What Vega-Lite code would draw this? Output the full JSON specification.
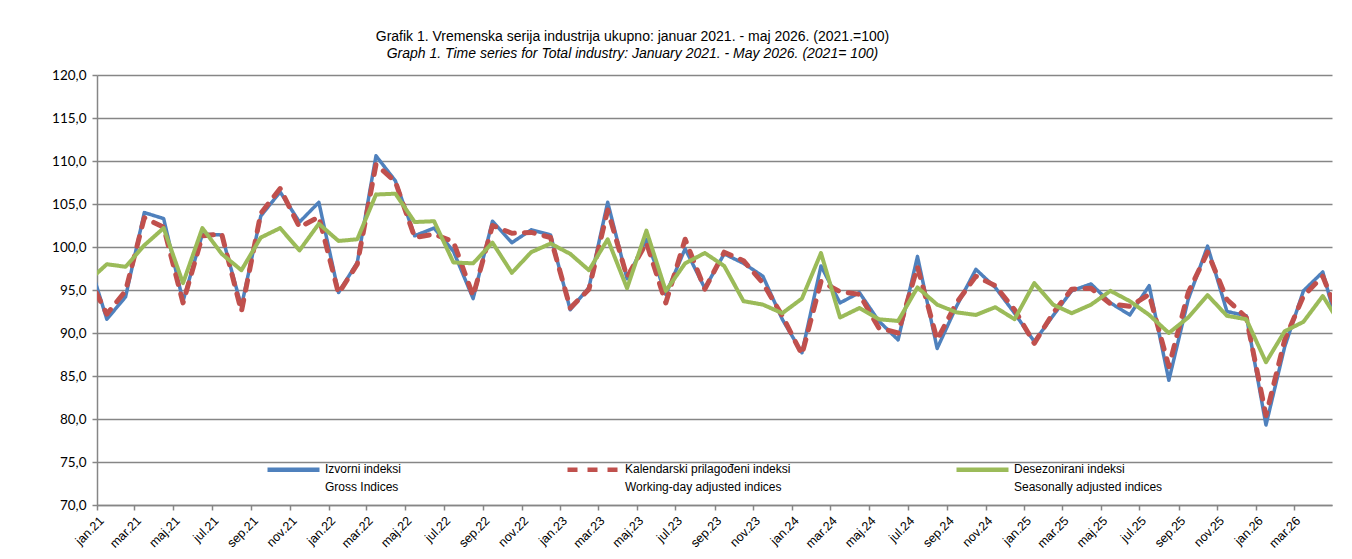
{
  "$schema": "https://vega.github.io/schema/vega-lite/v6.json",
  "width": 1235,
  "height": 430,
  "autosize": {"type": "none"},
  "padding": {"left": 97, "top": 75, "right": 20, "bottom": 54},
  "background": "white",
  "title": {
    "text": "Grafik 1. Vremenska serija industrija ukupno: januar 2021. - maj 2026. (2021.=100)",
    "subtitle": "Graph 1. Time series for Total industry:  January 2021. -  May 2026. (2021= 100)",
    "anchor": "middle",
    "frame": "group",
    "dx": -82,
    "offset": 7,
    "font": "Liberation Sans",
    "fontSize": 14,
    "fontWeight": "normal",
    "color": "#000000",
    "subtitleFont": "Liberation Sans",
    "subtitleFontSize": 14,
    "subtitleFontStyle": "italic",
    "subtitleColor": "#000000",
    "subtitlePadding": 3
  },
  "data": {
    "values": [
      {"month": "2020-12", "gross": 99.0, "wda": 96.8, "sa": 95.9},
      {"month": "2021-01", "gross": 91.6, "wda": 92.2, "sa": 98.0},
      {"month": "2021-02", "gross": 94.2, "wda": 94.9, "sa": 97.7},
      {"month": "2021-03", "gross": 104.0, "wda": 103.4, "sa": 100.2},
      {"month": "2021-04", "gross": 103.3, "wda": 102.3, "sa": 102.2},
      {"month": "2021-05", "gross": 93.7, "wda": 93.5, "sa": 95.8},
      {"month": "2021-06", "gross": 101.5, "wda": 101.3, "sa": 102.2},
      {"month": "2021-07", "gross": 101.4, "wda": 101.5, "sa": 99.2},
      {"month": "2021-08", "gross": 93.1, "wda": 92.5, "sa": 97.3},
      {"month": "2021-09", "gross": 103.6, "wda": 103.9, "sa": 101.1},
      {"month": "2021-10", "gross": 106.4, "wda": 106.8, "sa": 102.2},
      {"month": "2021-11", "gross": 102.9, "wda": 102.3, "sa": 99.6},
      {"month": "2021-12", "gross": 105.2, "wda": 103.5, "sa": 102.7},
      {"month": "2022-01", "gross": 94.7, "wda": 94.6, "sa": 100.7},
      {"month": "2022-02", "gross": 98.2, "wda": 98.0, "sa": 100.9},
      {"month": "2022-03", "gross": 110.6, "wda": 109.6, "sa": 106.1},
      {"month": "2022-04", "gross": 107.7, "wda": 107.6, "sa": 106.2},
      {"month": "2022-05", "gross": 101.3, "wda": 101.1, "sa": 102.9},
      {"month": "2022-06", "gross": 102.2, "wda": 101.5, "sa": 103.0},
      {"month": "2022-07", "gross": 99.5, "wda": 100.6, "sa": 98.2},
      {"month": "2022-08", "gross": 94.0, "wda": 94.3, "sa": 98.1},
      {"month": "2022-09", "gross": 103.0, "wda": 102.5, "sa": 100.5},
      {"month": "2022-10", "gross": 100.5, "wda": 101.6, "sa": 97.0},
      {"month": "2022-11", "gross": 102.0, "wda": 101.7, "sa": 99.4},
      {"month": "2022-12", "gross": 101.4, "wda": 101.1, "sa": 100.4},
      {"month": "2023-01", "gross": 92.7, "wda": 92.9, "sa": 99.2},
      {"month": "2023-02", "gross": 95.3, "wda": 95.1, "sa": 97.3},
      {"month": "2023-03", "gross": 105.2, "wda": 104.3, "sa": 100.9},
      {"month": "2023-04", "gross": 96.3, "wda": 96.5, "sa": 95.2},
      {"month": "2023-05", "gross": 100.9, "wda": 100.5, "sa": 101.9},
      {"month": "2023-06", "gross": 94.5, "wda": 93.5, "sa": 94.9},
      {"month": "2023-07", "gross": 99.8, "wda": 100.9, "sa": 98.1},
      {"month": "2023-08", "gross": 95.2, "wda": 95.1, "sa": 99.3},
      {"month": "2023-09", "gross": 99.2, "wda": 99.4, "sa": 97.8},
      {"month": "2023-10", "gross": 98.1, "wda": 98.4, "sa": 93.7},
      {"month": "2023-11", "gross": 96.6, "wda": 95.8, "sa": 93.3},
      {"month": "2023-12", "gross": 91.6, "wda": 92.0, "sa": 92.3},
      {"month": "2024-01", "gross": 87.7, "wda": 87.5, "sa": 94.0},
      {"month": "2024-02", "gross": 97.8, "wda": 96.0, "sa": 99.3},
      {"month": "2024-03", "gross": 93.5, "wda": 94.8, "sa": 91.8},
      {"month": "2024-04", "gross": 94.7, "wda": 94.5, "sa": 92.9},
      {"month": "2024-05", "gross": 91.4, "wda": 90.6, "sa": 91.6},
      {"month": "2024-06", "gross": 89.2, "wda": 90.0, "sa": 91.4},
      {"month": "2024-07", "gross": 98.9, "wda": 97.7, "sa": 95.3},
      {"month": "2024-08", "gross": 88.2, "wda": 89.2, "sa": 93.3},
      {"month": "2024-09", "gross": 93.1, "wda": 93.5, "sa": 92.4},
      {"month": "2024-10", "gross": 97.4, "wda": 96.6, "sa": 92.1},
      {"month": "2024-11", "gross": 95.3, "wda": 95.5, "sa": 93.0},
      {"month": "2024-12", "gross": 92.3, "wda": 92.7, "sa": 91.6},
      {"month": "2025-01", "gross": 89.0, "wda": 88.8, "sa": 95.8},
      {"month": "2025-02", "gross": 92.0, "wda": 92.3, "sa": 93.3},
      {"month": "2025-03", "gross": 94.9, "wda": 95.1, "sa": 92.3},
      {"month": "2025-04", "gross": 95.7, "wda": 95.2, "sa": 93.3},
      {"month": "2025-05", "gross": 93.5, "wda": 93.4, "sa": 94.9},
      {"month": "2025-06", "gross": 92.1, "wda": 93.1, "sa": 93.7},
      {"month": "2025-07", "gross": 95.5, "wda": 94.5, "sa": 92.1},
      {"month": "2025-08", "gross": 84.5, "wda": 86.1, "sa": 90.0},
      {"month": "2025-09", "gross": 93.9, "wda": 94.7, "sa": 91.8},
      {"month": "2025-10", "gross": 100.1, "wda": 99.4, "sa": 94.4},
      {"month": "2025-11", "gross": 92.5, "wda": 93.9, "sa": 92.0},
      {"month": "2025-12", "gross": 92.0, "wda": 91.8, "sa": 91.6},
      {"month": "2026-01", "gross": 79.3, "wda": 80.4, "sa": 86.6},
      {"month": "2026-02", "gross": 88.4, "wda": 89.2, "sa": 90.2},
      {"month": "2026-03", "gross": 94.9, "wda": 94.3, "sa": 91.3},
      {"month": "2026-04", "gross": 97.1, "wda": 96.6, "sa": 94.3},
      {"month": "2026-05", "gross": 88.8, "wda": 91.0, "sa": 90.7}
    ]
  },
  "transform": [{"fold": ["gross", "wda", "sa"], "as": ["series", "value"]}],
  "encoding": {
    "x": {
      "field": "month",
      "type": "temporal",
      "timeUnit": "utcyearmonth",
      "bandPosition": 0.5,
      "scale": {
        "type": "utc",
        "domain": [
          {"year": 2021, "month": 1, "date": 1, "utc": true},
          {"year": 2026, "month": 4, "date": 30, "hours": 12, "utc": true}
        ]
      },
      "axis": {
        "title": null,
        "grid": false,
        "tickCount": {"interval": "month", "step": 2},
        "labelExpr": "['jan','feb','mar','apr','maj','jun','jul','avg','sep','okt','nov','dec'][utcmonth(datum.value)] + '.' + utcFormat(datum.value, '%y')",
        "labelAngle": -45,
        "labelAlign": "right",
        "labelBaseline": "top",
        "labelFont": "Liberation Sans",
        "labelFontSize": 12.5,
        "labelColor": "#000000",
        "labelPadding": 4,
        "labelOverlap": false,
        "labelFlush": false,
        "domainColor": "#868686",
        "domainWidth": 1.5,
        "tickColor": "#868686",
        "tickSize": 5,
        "tickWidth": 1.5
      }
    },
    "y": {
      "field": "value",
      "type": "quantitative",
      "scale": {"domain": [70, 120], "nice": false, "zero": false},
      "axis": {
        "title": null,
        "values": [70, 75, 80, 85, 90, 95, 100, 105, 110, 115, 120],
        "labelExpr": "replace(format(datum.value, '.1f'), '.', ',')",
        "labelFont": "Lato",
        "labelFontSize": 13.5,
        "labelColor": "#000000",
        "labelPadding": 6,
        "grid": true,
        "gridColor": "#868686",
        "gridWidth": 1.5,
        "domainColor": "#868686",
        "domainWidth": 1.5,
        "tickColor": "#868686",
        "tickSize": 5,
        "tickWidth": 1.5
      }
    },
    "color": {
      "field": "series",
      "type": "nominal",
      "scale": {"domain": ["gross", "wda", "sa"], "range": ["#4F81BD", "#C0504D", "#9BBB59"]},
      "legend": {
        "title": null,
        "orient": "none",
        "legendX": 168,
        "legendY": 366,
        "direction": "horizontal",
        "columns": 3,
        "columnPadding": 156,
        "padding": 0,
        "symbolType": "stroke",
        "symbolSize": 2704,
        "symbolStrokeWidth": 4.5,
        "labelFont": "Liberation Sans",
        "labelFontSize": 12,
        "labelColor": "#000000",
        "labelOffset": 3,
        "labelBaseline": "top",
        "labelLimit": 300,
        "labelExpr": "datum.value == 'gross' ? ['Izvorni indeksi', 'Gross Indices'] : datum.value == 'wda' ? ['Kalendarski prilagođeni indeksi', 'Working-day adjusted indices'] : ['Desezonirani indeksi', 'Seasonally adjusted indices']",
        "encode": {"labels": {"update": {"lineHeight": {"value": 18}, "dy": {"value": -6}}}}
      }
    },
    "strokeDash": {
      "field": "series",
      "type": "nominal",
      "scale": {"domain": ["gross", "wda", "sa"], "range": [[1, 0], [10, 10], [1, 0]]},
      "legend": {
        "title": null,
        "orient": "none",
        "legendX": 168,
        "legendY": 366,
        "direction": "horizontal",
        "columns": 3,
        "columnPadding": 156,
        "padding": 0,
        "symbolType": "stroke",
        "symbolSize": 2704,
        "symbolStrokeWidth": 4.5,
        "labelFont": "Liberation Sans",
        "labelFontSize": 12,
        "labelColor": "#000000",
        "labelOffset": 3,
        "labelBaseline": "top",
        "labelLimit": 300,
        "labelExpr": "datum.value == 'gross' ? ['Izvorni indeksi', 'Gross Indices'] : datum.value == 'wda' ? ['Kalendarski prilagođeni indeksi', 'Working-day adjusted indices'] : ['Desezonirani indeksi', 'Seasonally adjusted indices']",
        "encode": {"labels": {"update": {"lineHeight": {"value": 18}, "dy": {"value": -6}}}}
      }
    }
  },
  "layer": [
    {
      "transform": [{"filter": "datum.series == 'gross'"}],
      "mark": {"type": "line", "clip": true, "strokeWidth": 3.5, "strokeCap": "round", "strokeJoin": "round"}
    },
    {
      "transform": [{"filter": "datum.series == 'wda'"}],
      "mark": {"type": "line", "clip": true, "strokeWidth": 5, "strokeCap": "round", "strokeJoin": "round"}
    },
    {
      "transform": [{"filter": "datum.series == 'sa'"}],
      "mark": {"type": "line", "clip": true, "strokeWidth": 4, "strokeCap": "round", "strokeJoin": "round"}
    }
  ],
  "config": {"view": {"stroke": null}}
}
